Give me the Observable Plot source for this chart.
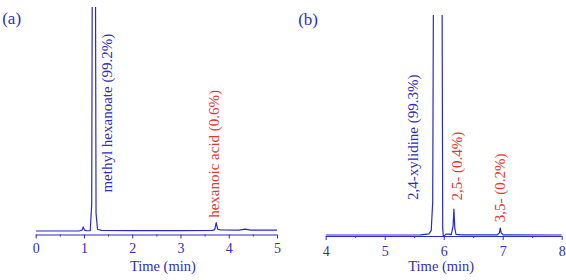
<!DOCTYPE html>
<html>
<head>
<meta charset="utf-8">
<script src="https://cdn.jsdelivr.net/npm/d3@7"></script>
<script src="https://cdn.jsdelivr.net/npm/@observablehq/plot@0.6"></script>
<style>
  html, body { margin: 0; padding: 0; background: #fff; }
  #wrap { display: flex; width: 566px; height: 280px; }
</style>
</head>
<body>
<div id="wrap"></div>
<script>
// ---- Panel (a): methyl hexanoate ----
const timeA   = [0, 0.5, 0.9, 0.95, 0.975, 1.0, 1.05, 1.12, 1.15, 1.165, 1.195, 1.225, 1.24, 1.27, 1.35, 2.0, 3.0, 3.65, 3.7, 3.73, 3.76, 3.82, 4.2, 4.33, 4.45, 5.0];
const signalA = [0, 0, 0.1, 0.4, 1.8, 0.4, 0.1, 0.2, 12, 140, 280, 140, 8, 0.8, 0.3, 0.2, 0.2, 0.3, 0.6, 3.8, 0.8, 0.5, 0.4, 0.8, 0.4, 0.4];
const majorTicksA = [0, 1, 2, 3, 4, 5];
const minorTicksA = [0.5, 1.5, 2.5, 3.5, 4.5];
const peakNamesA = ["methyl hexanoate (99.2%)", "hexanoic acid (0.6%)"];
const peakLabelTimeA = [1.476, 3.685];
const peakLabelSignalA = [17.2, 5.9];
const peakKindA = ["main", "impurity"];

// ---- Panel (b): 2,4-xylidine ----
const timeB   = [4, 5, 5.6, 5.74, 5.78, 5.805, 5.82, 5.9, 5.962, 5.975, 5.985, 6.0, 6.03, 6.08, 6.12, 6.15, 6.165, 6.18, 6.2, 6.3, 6.9, 6.935, 6.95, 6.965, 7.0, 8];
const signalB = [0, 0, 0.1, 0.5, 2, 15, 130, 500, 130, 3, -0.6, -0.4, 0.4, 0.4, 0.2, 4, 11.8, 3, 0.3, 0.1, 0.1, 1, 3.2, 1, 0.1, 0];
const majorTicksB = [4, 5, 6, 7, 8];
const minorTicksB = [4.5, 5.5, 6.5, 7.5];
const peakNamesB = ["2,4-xylidine (99.3%)", "2,5- (0.4%)", "3,5- (0.2%)"];
const peakLabelTimeB = [5.468, 6.22, 6.954];
const peakLabelSignalB = [16.0, 15.7, 5.8];
const peakKindB = ["main", "impurity", "impurity"];

const BLUE = "#2a2ac4";
const TEXTBLUE = "#2f2fb4";
const RED = "#e0392e";
const FONT = "'Liberation Serif', 'Times New Roman', serif";

function panel(o) {
  const trace = o.time.map((t, i) => ({t, s: o.signal[i]}));
  const labels = o.names.map((n, i) => ({name: n, t: o.lt[i], s: o.ls[i], kind: o.kind[i]}));
  return Plot.plot({
    width: 283, height: 280,
    marginLeft: o.ml, marginRight: o.mr, marginTop: o.mt, marginBottom: o.mb,
    x: {domain: o.xDomain},
    y: {domain: o.yDomain, axis: null},
    color: {domain: ["main", "impurity"], range: [TEXTBLUE, RED]},
    style: {fontFamily: FONT, color: TEXTBLUE, background: "white", overflow: "visible"},
    marks: [
      Plot.ruleY([o.yDomain[0]], {stroke: BLUE, strokeWidth: 1.2}),
      Plot.axisX(o.major, {tickSize: 4, tickPadding: o.tickPad, fontSize: 14, stroke: BLUE, label: null, fill: TEXTBLUE}),
      Plot.axisX(o.minor, {tickSize: 2, tickFormat: () => "", stroke: BLUE, label: null}),
      Plot.line(trace, {x: "t", y: "s", stroke: BLUE, strokeWidth: 1.2, clip: true}),
      Plot.text(labels, {x: "t", y: "s", text: "name", fill: "kind", rotate: -90, textAnchor: "start", fontSize: 15}),
      Plot.text([o.tag], {text: d => d, frameAnchor: "top-left", textAnchor: "start", dx: o.tagDx, dy: o.tagDy, fontSize: 17, fill: TEXTBLUE}),
      Plot.text(["Time (min)"], {text: d => d, frameAnchor: "bottom", dx: o.labDx, dy: o.labDy, fontSize: 14.5, fill: TEXTBLUE})
    ]
  });
}

const wrap = document.getElementById("wrap");
wrap.append(panel({
  time: timeA, signal: signalA, xDomain: [0, 5], yDomain: [-1.79, 100],
  major: majorTicksA, minor: minorTicksA,
  names: peakNamesA, lt: peakLabelTimeA, ls: peakLabelSignalA, kind: peakKindA,
  ml: 35.7, mr: 6, mt: 7, mb: 45.5, tickPad: 4.5,
  tag: "(a)", tagDx: -34, tagDy: 4, labDx: 6, labDy: 35.5
}));
wrap.append(panel({
  time: timeB, signal: signalB, xDomain: [4, 8], yDomain: [-0.68, 100],
  major: majorTicksB, minor: minorTicksB,
  names: peakNamesB, lt: peakLabelTimeB, ls: peakLabelSignalB, kind: peakKindB,
  ml: 42.7, mr: 4.3, mt: 15, mb: 44, tickPad: 6,
  tag: "(b)", tagDx: -28, tagDy: -2.5, labDx: -3, labDy: 34.5
}));
</script>
</body>
</html>
